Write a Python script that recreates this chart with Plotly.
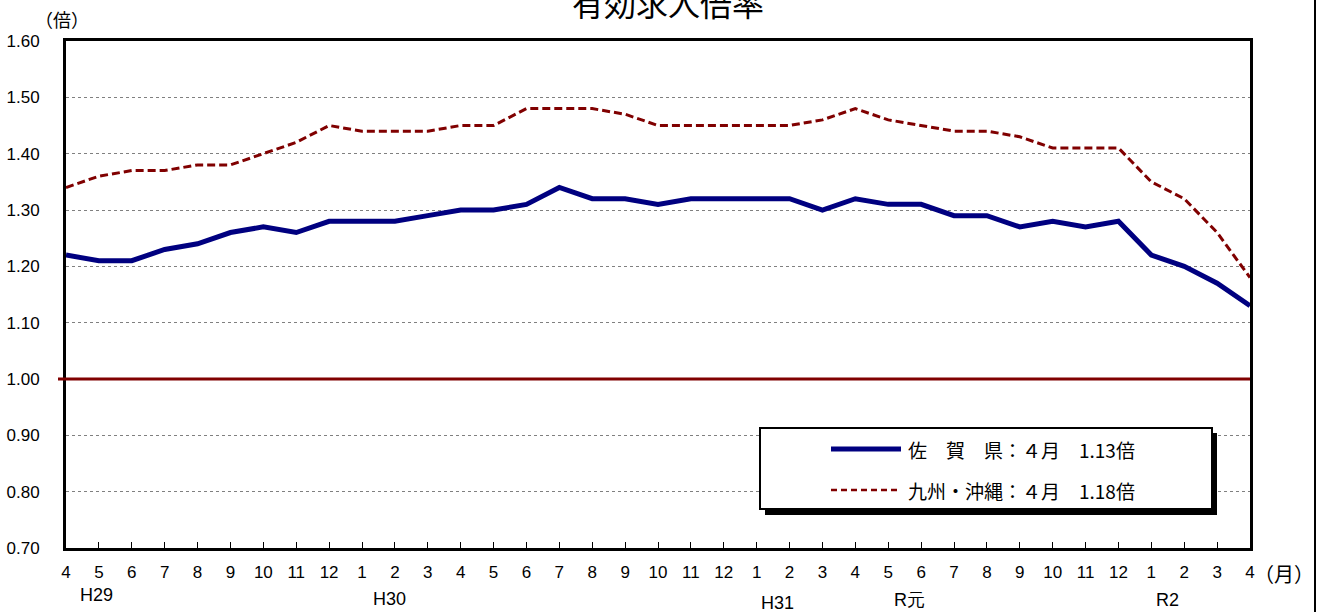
import plotly.graph_objects as go

# Monthly effective job-offer ratio, April 2017 (H29) to April 2020 (R2)
month_labels = ["4", "5", "6", "7", "8", "9", "10", "11", "12",
                "1", "2", "3", "4", "5", "6", "7", "8", "9", "10", "11", "12",
                "1", "2", "3", "4", "5", "6", "7", "8", "9", "10", "11", "12",
                "1", "2", "3", "4"]
saga = [1.22, 1.21, 1.21, 1.23, 1.24, 1.26, 1.27, 1.26, 1.28,
        1.28, 1.28, 1.29, 1.30, 1.30, 1.31, 1.34, 1.32, 1.32, 1.31, 1.32, 1.32,
        1.32, 1.32, 1.30, 1.32, 1.31, 1.31, 1.29, 1.29, 1.27, 1.28, 1.27, 1.28,
        1.22, 1.20, 1.17, 1.13]
kyushu = [1.34, 1.36, 1.37, 1.37, 1.38, 1.38, 1.40, 1.42, 1.45,
          1.44, 1.44, 1.44, 1.45, 1.45, 1.48, 1.48, 1.48, 1.47, 1.45, 1.45, 1.45,
          1.45, 1.45, 1.46, 1.48, 1.46, 1.45, 1.44, 1.44, 1.43, 1.41, 1.41, 1.41,
          1.35, 1.32, 1.26, 1.18]
era_labels = ["H29", "H30", "H31", "R元", "R2"]
era_positions = [0.94, 9.85, 21.64, 25.65, 33.5]
era_y_px = [595, 599, 603, 600, 600]
y_ticks = [0.70, 0.80, 0.90, 1.00, 1.10, 1.20, 1.30, 1.40, 1.50, 1.60]

W, H = 1317, 612
L, R, T, B = 66, 1250, 41, 548
pw, ph = R - L, B - T


def px(x):
    return (x - L) / pw


def py(y):
    return (B - y) / ph


NUM_FONT = "Liberation Sans, Arial, sans-serif"
JP_FONT = "Noto Sans CJK JP, sans-serif"
BLUE = "#000080"
RED = "#800000"

xs = list(range(len(month_labels)))

fig = go.Figure()
fig.add_trace(go.Scatter(x=xs, y=kyushu, mode="lines",
                         line=dict(color=RED, width=3, dash="8px,4px"),
                         showlegend=False, hoverinfo="skip"))
fig.add_trace(go.Scatter(x=xs, y=saga, mode="lines",
                         line=dict(color=BLUE, width=5),
                         showlegend=False, hoverinfo="skip"))

shapes = []
# 1.00 reference line
shapes.append(dict(type="line", xref="paper", yref="y", x0=px(58), x1=1,
                   y0=1.0, y1=1.0, line=dict(color=RED, width=3)))
# legend panel with drop shadow
shapes.append(dict(type="rect", xref="paper", yref="paper",
                   x0=px(765), x1=px(1217), y0=py(515), y1=py(433),
                   fillcolor="black", line=dict(width=0)))
shapes.append(dict(type="rect", xref="paper", yref="paper",
                   x0=px(760), x1=px(1212), y0=py(509), y1=py(428),
                   fillcolor="white", line=dict(color="black", width=2)))
shapes.append(dict(type="line", xref="paper", yref="paper",
                   x0=px(831), x1=px(901), y0=py(449), y1=py(449),
                   line=dict(color=BLUE, width=5)))
shapes.append(dict(type="line", xref="paper", yref="paper",
                   x0=px(831), x1=px(901), y0=py(490), y1=py(490),
                   line=dict(color=RED, width=2.5, dash="6px,4px")))
# outer frame edge
shapes.append(dict(type="line", xref="paper", yref="paper",
                   x0=px(1315), x1=px(1315), y0=py(612), y1=py(0),
                   line=dict(color="black", width=2)))

last_month = month_labels[-1]
full_month = last_month.translate(str.maketrans("0123456789", "０１２３４５６７８９"))
SP = "\u3000"
legend_rows = [
    (f"佐{SP}賀{SP}県：{full_month}月{SP}{saga[-1]:.2f}倍", 449),
    (f"九州・沖縄：{full_month}月{SP}{kyushu[-1]:.2f}倍", 490),
]

annotations = []
for text, ypix in legend_rows:
    annotations.append(dict(text=text, xref="paper", yref="paper",
                            x=px(906), y=py(ypix), xanchor="left", yanchor="middle",
                            showarrow=False, font=dict(family=JP_FONT, size=19, color="black")))

annotations.append(dict(text="有効求人倍率", xref="paper", yref="paper",
                        x=px(668), y=py(2), xanchor="center", yanchor="middle",
                        showarrow=False, font=dict(family=JP_FONT, size=32, color="black")))
annotations.append(dict(text="（倍）", xref="paper", yref="paper",
                        x=px(62), y=py(19), xanchor="center", yanchor="middle",
                        showarrow=False, font=dict(family=JP_FONT, size=18, color="black")))
annotations.append(dict(text="（月）", xref="paper", yref="paper",
                        x=px(1284), y=py(573), xanchor="center", yanchor="middle",
                        showarrow=False, font=dict(family=JP_FONT, size=20, color="black")))
for lab, xpos, ypix in zip(era_labels, era_positions, era_y_px):
    annotations.append(dict(text=lab, xref="x", yref="paper",
                            x=xpos, y=py(ypix), xanchor="center", yanchor="middle",
                            showarrow=False, font=dict(family=NUM_FONT, size=18, color="black")))

fig.update_layout(
    width=W, height=H, autosize=False,
    margin=dict(l=L, r=W - R, t=T, b=H - B, pad=0, autoexpand=False),
    paper_bgcolor="white", plot_bgcolor="white",
    shapes=shapes, annotations=annotations,
    showlegend=False,
)
fig.update_xaxes(range=[0, len(month_labels) - 1], tickmode="array",
                 tickvals=xs, ticktext=month_labels, automargin=False,
                 ticks="inside", ticklen=6, tickwidth=1, tickcolor="black",
                 showline=True, linecolor="black", linewidth=3, mirror=True,
                 showgrid=False, zeroline=False, ticklabelstandoff=7,
                 tickfont=dict(family=NUM_FONT, size=17, color="black"))
fig.update_yaxes(range=[0.7, 1.6], tickmode="array", tickvals=y_ticks,
                 ticktext=[f"{v:.2f}" for v in y_ticks], automargin=False,
                 ticks="", showline=True, linecolor="black", linewidth=3, mirror=True,
                 showgrid=True, gridcolor="#808080", gridwidth=1, griddash="dot",
                 zeroline=False, ticklabelstandoff=20,
                 tickfont=dict(family=NUM_FONT, size=17, color="black"))

fig.write_html("out.html")
